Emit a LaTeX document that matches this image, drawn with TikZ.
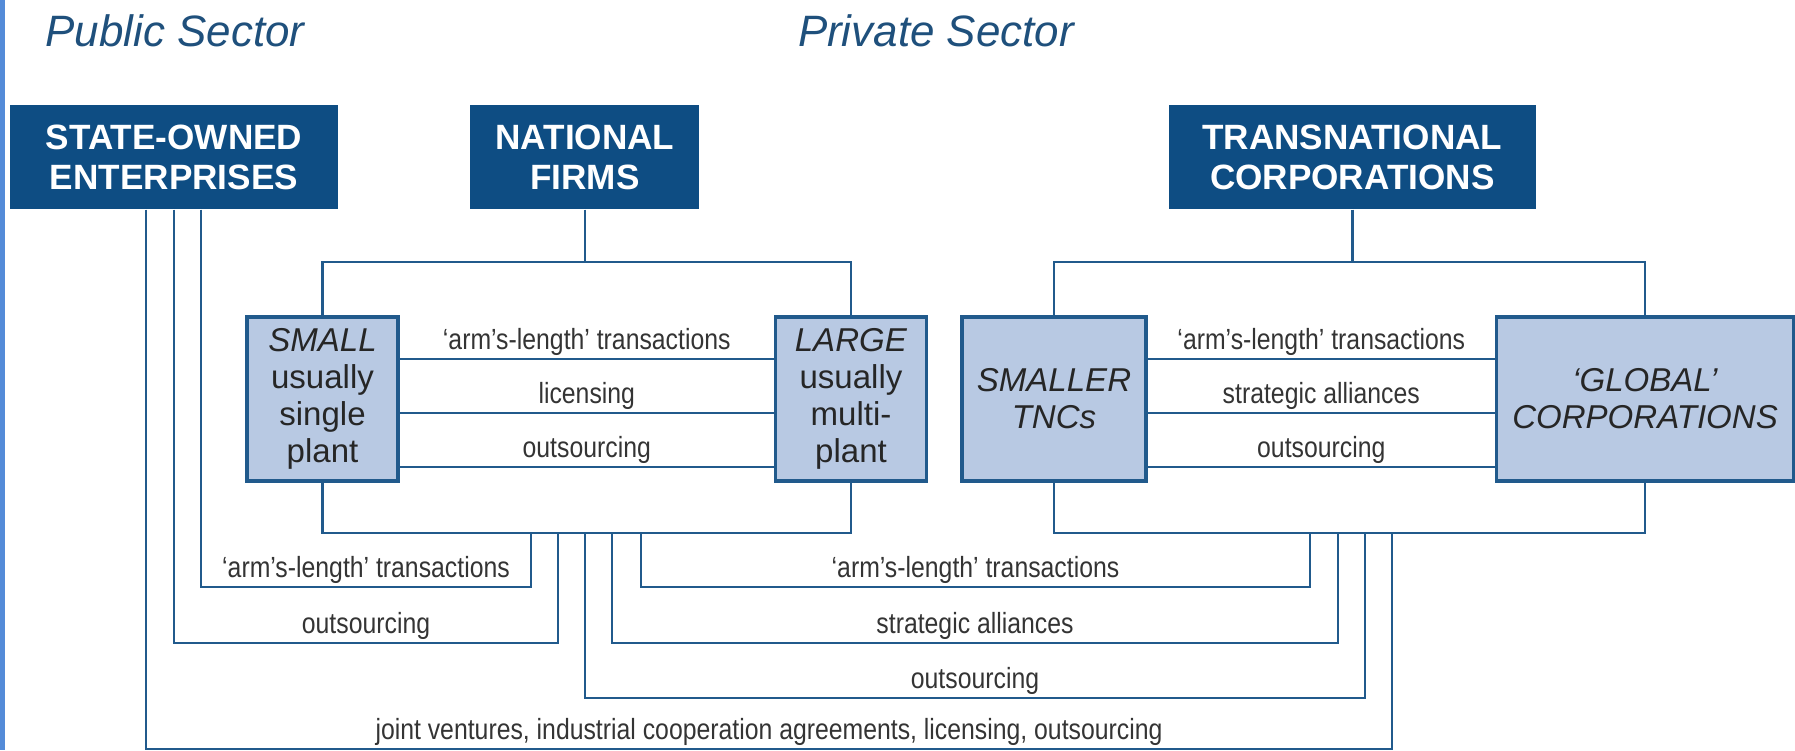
\documentclass[tikz,border=0pt]{standalone}
\usepackage{fontspec}
\setmainfont{Liberation Sans}
\newfontfamily\narrowsans{Liberation Sans}[FakeStretch=0.85, Ligatures=TeX]
\usetikzlibrary{positioning}

\definecolor{headblue}{RGB}{14,77,131}
\definecolor{linkblue}{RGB}{33,90,140}
\definecolor{firmblue}{RGB}{184,201,227}
\definecolor{stripblue}{RGB}{84,139,216}
\definecolor{sectorblue}{RGB}{31,80,124}
\definecolor{labgray}{RGB}{52,52,52}

\begin{document}
\begin{tikzpicture}[
    x=0.1mm, y=-0.1mm,
    sector/.style={
      text=sectorblue,
      font=\fontsize{12.5}{14}\selectfont\itshape
    },
    head/.style={
      fill=headblue,
      text=white,
      align=center,
      inner sep=0pt,
      minimum height=10.4mm,
      font=\fontsize{10}{11.4}\selectfont\bfseries
    },
    firm/.style={
      draw=linkblue,
      line width=1pt,
      fill=firmblue,
      text=black!85,
      align=center,
      inner sep=0pt,
      minimum height=16.4mm,
      font=\fontsize{9.4}{10.5}\selectfont
    },
    link/.style={draw=linkblue, line width=0.75pt},
    lab/.style={
      text=labgray,
      inner sep=0pt,
      anchor=base,
      yshift=1mm,
      font=\narrowsans\fontsize{8.3}{9}\selectfont
    }
  ]
    \useasboundingbox (0,0) rectangle (1795,750);
    \fill[stripblue] (0,0) rectangle (5,750);

    \node[sector] (public) at (175,31) {Public Sector};
    \node[sector] (private) at (936,31) {Private Sector};

    \node[head, minimum width=32.8mm] (state) at (174,157) {STATE-OWNED\\ENTERPRISES};
    \node[head, minimum width=22.9mm, right=13.1mm of state] (national) {NATIONAL\\FIRMS};
    \node[head, minimum width=36.7mm, right=46.8mm of national] (tnc) {TRANSNATIONAL\\CORPORATIONS};

    \node[firm, minimum width=15.1mm] (small) at (322.5,399) {\textit{SMALL}\\usually\\single\\plant};
    \node[firm, minimum width=15.1mm, right=37.4mm of small] (large) {\textit{LARGE}\\usually\\multi-\\plant};
    \node[firm, minimum width=18.4mm] (smaller) at (1054,399) {\textit{SMALLER}\\\textit{TNCs}};
    \node[firm, minimum width=29.7mm, right=34.7mm of smaller] (global) {\textit{‘GLOBAL’}\\\textit{CORPORATIONS}};

    \coordinate (natbar) at (national.south |- 0,262);
    \coordinate (natlow) at (national.south |- 0,533);
    \coordinate (tncbar) at (tnc.south |- 0,262);
    \coordinate (tnclow) at (tnc.south |- 0,533);

    \draw[link] (national) -- (natbar);
    \draw[link] (small) |- (natbar) -| (large);
    \draw[link] (small) |- (natlow) -| (large);
    \draw[link] (tnc) -- (tncbar);
    \draw[link] (smaller) |- (tncbar) -| (global);
    \draw[link] (smaller) |- (tnclow) -| (global);

    \draw[link] (small.east |- 0,359) -- node[lab, midway] {‘arm’s-length’ transactions} (large.west |- 0,359);
    \draw[link] (small.east |- 0,413) -- node[lab, midway] {licensing} (large.west |- 0,413);
    \draw[link] (small.east |- 0,467) -- node[lab, midway] {outsourcing} (large.west |- 0,467);

    \draw[link] (smaller.east |- 0,359) -- node[lab, midway] {‘arm’s-length’ transactions} (global.west |- 0,359);
    \draw[link] (smaller.east |- 0,413) -- node[lab, midway] {strategic alliances} (global.west |- 0,413);
    \draw[link] (smaller.east |- 0,467) -- node[lab, midway] {outsourcing} (global.west |- 0,467);

    \draw[link] (201,0 |- state.south) |- node[lab, pos=0.75] {‘arm’s-length’ transactions} (531,587) -- (531,0 |- natlow);
    \draw[link] (174,0 |- state.south) |- node[lab, pos=0.75] {outsourcing} (558,643) -- (558,0 |- natlow);
    \draw[link] (146,0 |- state.south) |- node[lab, pos=0.75] {joint ventures, industrial cooperation agreements, licensing, outsourcing} (1392,749) -- (1392,0 |- tnclow);

    \draw[link] (641,0 |- natlow) |- node[lab, pos=0.75] {‘arm’s-length’ transactions} (1310,587) -- (1310,0 |- tnclow);
    \draw[link] (612,0 |- natlow) |- node[lab, pos=0.75] {strategic alliances} (1338,643) -- (1338,0 |- tnclow);
    \draw[link] (585,0 |- natlow) |- node[lab, pos=0.75] {outsourcing} (1365,698) -- (1365,0 |- tnclow);
  \end{tikzpicture}
\end{document}
